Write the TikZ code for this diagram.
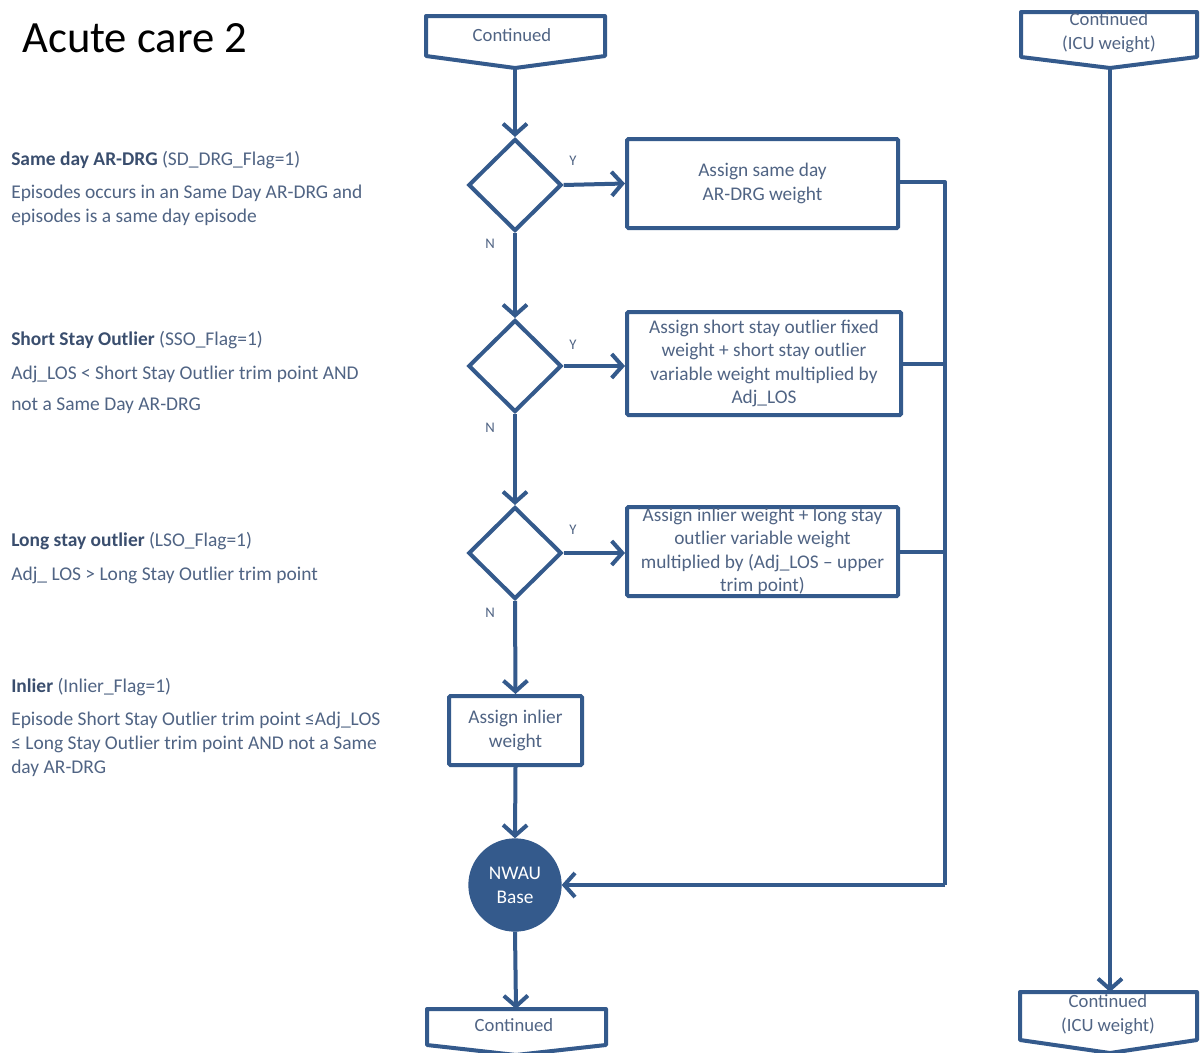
\documentclass[tikz,border=0pt]{standalone}
\usepackage{fontspec}
\setmainfont{Carlito}
\usetikzlibrary{shapes.geometric,arrows.meta}
\definecolor{lc}{RGB}{52,90,140}
\definecolor{tc}{RGB}{80,100,132}
\definecolor{hc}{RGB}{58,78,110}
\begin{document}
\begin{tikzpicture}[x=0.75pt,y=-0.75pt,
  conn/.style={draw=lc, line width=3pt},
  arr/.style={conn, -{Straight Barb[length=8pt,width=18pt]}},
  procbox/.style={draw=lc, line width=3pt, rectangle, rounded corners=1pt, align=center,
     text=tc, font=\fontsize{14.5}{17.6}\selectfont, inner sep=0pt},
  decision/.style={draw=lc, line width=3pt, diamond, aspect=1, inner sep=0pt,
     minimum width=70pt, minimum height=69pt},
  yn/.style={text=tc, font=\fontsize{11}{13}\selectfont, inner sep=0pt},
  lefttxt/.style={anchor=west, text=tc, font=\fontsize{14.6}{17}\selectfont, inner sep=0pt,
     text height=10pt, text depth=3pt},
  contshape/.style={draw=lc, line width=3pt, line join=round, fill=white},
  conttxt/.style={text=tc, font=\fontsize{14}{18}\selectfont, inner sep=0pt, align=center}
]
\useasboundingbox[fill=white] (0,0) rectangle (1200,1053);

% title
\node[anchor=west, inner sep=0pt, font=\fontsize{33.5}{38}\selectfont] (title) at (22,38) {Acute care 2};

% continued shapes
\draw[contshape] (426,16) -- (605,16) -- (605,56) -- (515,68) -- (426,56) -- cycle;
\coordinate (c1tip) at (515,68);
\node[conttxt] (c1) at (512,35) {Continued};

\draw[contshape] (1021,12) -- (1197,12) -- (1197,57) -- (1110,68) -- (1021,57) -- cycle;
\coordinate (icutip) at (1110,68);
\node[conttxt] (icu1) at (1109,33) {Continued\\(ICU weight)};

\draw[contshape] (427,1009) -- (606,1009) -- (606,1045) -- (516,1055) -- (427,1045) -- cycle;
\coordinate (c2top) at (516,1009);
\node[conttxt] (c2) at (514,1025) {Continued};

\draw[contshape] (1020,992) -- (1197,992) -- (1197,1040) -- (1110,1053) -- (1020,1040) -- cycle;
\coordinate (icubtop) at (1110,992);
\node[conttxt] (icu2) at (1108,1015) {Continued\\(ICU weight)};

% decisions
\node[decision] (d1) at (515,185) {};
\node[decision] (d2) at (515,366) {};
\node[decision] (d3) at (515,553) {};

% process boxes
\node[procbox, minimum width=203.25pt, minimum height=66.75pt] (b1) at (762.5,183.5)
  {Assign same day\\AR-DRG weight};
\node[procbox, minimum width=205.5pt, minimum height=77.25pt] (b2) at (764,363.5)
  {Assign short stay outlier fixed\\weight + short stay outlier\\variable weight multiplied by\\Adj\_LOS};
\node[procbox, minimum width=203.25pt, minimum height=66.75pt] (b3) at (762.5,551.5)
  {Assign inlier weight + long stay\\outlier variable weight\\multiplied by (Adj\_LOS -- upper\\trim point)};
\node[procbox, minimum width=99.75pt, minimum height=51.75pt] (b4) at (515.5,730.5)
  {Assign inlier\\weight};

% NWAU circle
\node[circle, fill=lc, draw=lc, line width=1pt, minimum size=69pt, inner sep=0pt, align=center,
  text=white, font=\fontsize{14.5}{18}\selectfont] (nwau) at (515,885) {NWAU\\Base};

% Y / N labels
\node[yn] (y1) at (573,161) {Y};
\node[yn] (y2) at (573,345) {Y};
\node[yn] (y3) at (573,530) {Y};
\node[yn] (n1) at (490,244) {N};
\node[yn] (n2) at (490,428) {N};
\node[yn] (n3) at (490,613) {N};

% connectors
\draw[arr] (c1tip) -- (d1.north);
\draw[arr] (d1.south) -- (d2.north);
\draw[arr] (d2.south) -- (d3.north);
\draw[arr] (d3.south) -- (b4.north);
\draw[arr] (b4.south) -- (nwau.north);
\draw[arr] (nwau.south) -- (c2top);
\draw[arr] (d1.east) -- (b1.west);
\draw[arr] (d2.east) -- (b2.west |- d2.east);
\draw[arr] (d3.east) -- (b3.west |- d3.east);
\coordinate (rtop) at (945,182);
\coordinate (rbot) at (945,885);
\draw[conn, line join=round] (b1.east |- rtop) -- (rtop) -- (rbot);
\draw[arr] (rbot) -- (nwau.east);
\draw[conn] (b2.east) -- (b2.east -| rtop);
\draw[conn] (b3.east) -- (b3.east -| rtop);
\draw[arr] (icutip) -- (icubtop);

% left texts
\node[lefttxt] (h1) at (11,161) {\textbf{\color{hc}Same day AR-DRG} (SD\_DRG\_Flag=1)};
\node[lefttxt] (t1a) at (11,194) {Episodes occurs in an Same Day AR-DRG and};
\node[lefttxt] (t1b) at (11,218) {episodes is a same day episode};

\node[lefttxt] (h2) at (11,341) {\textbf{\color{hc}Short Stay Outlier} (SSO\_Flag=1)};
\node[lefttxt] (t2a) at (11,375) {Adj\_LOS < Short Stay Outlier trim point AND};
\node[lefttxt] (t2b) at (11,406) {not a Same Day AR-DRG};

\node[lefttxt] (h3) at (11,542) {\textbf{\color{hc}Long stay outlier} (LSO\_Flag=1)};
\node[lefttxt] (t3a) at (11,576) {Adj\_ LOS > Long Stay Outlier trim point};

\node[lefttxt] (h4) at (11,688) {\textbf{\color{hc}Inlier} (Inlier\_Flag=1)};
\node[lefttxt] (t4a) at (11,721) {Episode Short Stay Outlier trim point ≤Adj\_LOS};
\node[lefttxt] (t4b) at (11,745) {≤ Long Stay Outlier trim point AND not a Same};
\node[lefttxt] (t4c) at (11,769) {day AR-DRG};
\end{tikzpicture}
\end{document}
